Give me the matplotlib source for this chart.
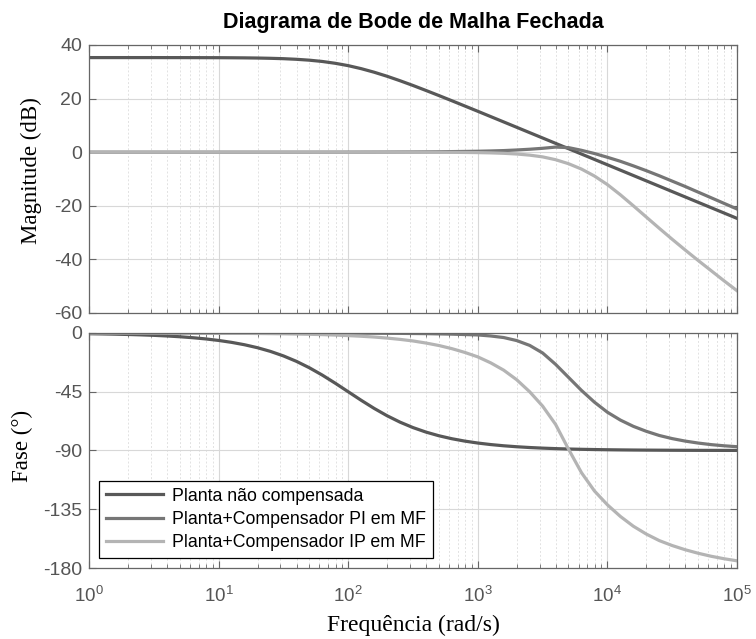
import matplotlib
matplotlib.use("Agg")
import matplotlib.pyplot as plt
from matplotlib.ticker import LogLocator, NullFormatter, FixedLocator

plt.rcParams['font.family'] = ['Liberation Sans', 'DejaVu Sans']
plt.rcParams['mathtext.fontset'] = 'custom'
plt.rcParams['mathtext.rm'] = 'Liberation Sans'
plt.rcParams['mathtext.it'] = 'Liberation Sans'
plt.rcParams['axes.unicode_minus'] = False

# frequencias (rad/s), passos de 0.1 decada
freq = [1, 1.259, 1.585, 1.995, 2.512, 3.162, 3.981, 5.012, 6.310, 7.943,
        10, 12.59, 15.85, 19.95, 25.12, 31.62, 39.81, 50.12, 63.10, 79.43,
        100, 125.9, 158.5, 199.5, 251.2, 316.2, 398.1, 501.2, 631.0, 794.3,
        1000, 1259, 1585, 1995, 2512, 3162, 3981, 5012, 6310, 7943,
        10000, 12590, 15850, 19950, 25120, 31620, 39810, 50120, 63100, 79430,
        100000]

# magnitude (dB)
mag_planta = [35.30, 35.30, 35.30, 35.30, 35.30, 35.30, 35.29, 35.29, 35.28, 35.27,
              35.26, 35.23, 35.19, 35.13, 35.03, 34.89, 34.66, 34.33, 33.85, 33.17,
              32.29, 31.17, 29.84, 28.33, 26.66, 24.89, 23.03, 21.13, 19.19, 17.23,
              15.26, 13.27, 11.28, 9.29, 7.29, 5.30, 3.30, 1.30, -0.70, -2.70,
              -4.70, -6.70, -8.70, -10.70, -12.70, -14.70, -16.70, -18.70, -20.70, -22.70,
              -24.70]
mag_pi = [0, 0, 0, 0, 0, 0, 0, 0, 0, 0,
          0, 0, 0, 0, 0, 0, 0, 0, 0.01, 0.01,
          0.02, 0.03, 0.04, 0.05, 0.07, 0.09, 0.12, 0.16, 0.22, 0.28,
          0.35, 0.46, 0.60, 0.82, 1.10, 1.45, 1.90, 1.70, 0.70, -0.50,
          -1.90, -3.40, -5.10, -6.90, -8.80, -10.80, -12.80, -14.90, -17.00, -19.10,
          -21.20]
mag_ip = [0, 0, 0, 0, 0, 0, 0, 0, 0, 0,
          0, 0, 0, 0, 0, 0, 0, 0, 0, 0,
          0, 0, 0, 0, -0.01, -0.01, -0.02, -0.04, -0.06, -0.10,
          -0.16, -0.26, -0.42, -0.68, -1.10, -1.75, -2.80, -4.30, -6.30, -8.90,
          -12.10, -15.90, -20.00, -24.20, -28.40, -32.50, -36.50, -40.40, -44.20, -48.00,
          -51.70]

# fase (graus)
fase_planta = [-0.57, -0.72, -0.91, -1.14, -1.44, -1.81, -2.28, -2.87, -3.61, -4.54,
               -5.71, -7.18, -9.01, -11.28, -14.10, -17.55, -21.70, -26.62, -32.25, -38.46,
               -45.00, -51.54, -57.75, -63.38, -68.30, -72.45, -75.90, -78.72, -80.99, -82.82,
               -84.29, -85.46, -86.39, -87.13, -87.72, -88.19, -88.56, -88.86, -89.09, -89.28,
               -89.43, -89.55, -89.64, -89.71, -89.77, -89.82, -89.86, -89.89, -89.91, -89.93,
               -89.94]
fase_pi = [0, 0, 0, 0, 0, 0, 0, 0, 0, 0,
           -0.01, -0.01, -0.02, -0.02, -0.03, -0.04, -0.05, -0.06, -0.07, -0.08,
           -0.10, -0.14, -0.20, -0.25, -0.30, -0.40, -0.50, -0.70, -0.90, -1.20,
           -1.50, -2.30, -3.50, -5.80, -9.50, -15.30, -24.00, -34.00, -44.00, -53.00,
           -60.70, -66.70, -71.50, -75.30, -78.50, -80.90, -82.80, -84.30, -85.50, -86.40,
           -87.10]
fase_ip = [-0.02, -0.02, -0.03, -0.04, -0.05, -0.06, -0.08, -0.10, -0.12, -0.16,
           -0.20, -0.25, -0.30, -0.40, -0.50, -0.62, -0.80, -1.00, -1.25, -1.60,
           -2.00, -2.50, -3.10, -3.90, -4.90, -6.10, -7.70, -9.60, -12.00, -14.90,
           -18.30, -22.90, -28.50, -35.80, -45.00, -56.00, -70.00, -89.00, -107.00, -121.00,
           -131.60, -140.50, -148.00, -154.00, -159.00, -162.80, -166.00, -168.70, -171.00, -172.90,
           -174.50]

labels = ['Planta não compensada', 'Planta+Compensador PI em MF',
          'Planta+Compensador IP em MF']
cores = ['#585858', '#767676', '#b4b4b4']

xticks = [1, 10, 100, 1000, 10000, 100000]
xticklabels = ['$10^{0}$', '$10^{1}$', '$10^{2}$', '$10^{3}$', '$10^{4}$', '$10^{5}$']
mag_ticks = [-60, -40, -20, 0, 20, 40]
fase_ticks = [-180, -135, -90, -45, 0]

fig = plt.figure(figsize=(7.56, 6.39), dpi=100)
ax1 = fig.add_axes([0.1177, 0.5102, 0.8572, 0.4194])
ax2 = fig.add_axes([0.1177, 0.1111, 0.8572, 0.3678])

ax1.plot(freq, mag_planta, color=cores[0], lw=2.3)
ax1.plot(freq, mag_pi, color=cores[1], lw=2.3)
ax1.plot(freq, mag_ip, color=cores[2], lw=2.3)

for f, c, lab in zip([fase_planta, fase_pi, fase_ip], cores, labels):
    ax2.plot(freq, f, color=c, lw=2.3, label=lab)

for ax in (ax1, ax2):
    ax.set_xscale('log')
    ax.set_xlim(1, 1e5)
    ax.xaxis.set_major_locator(FixedLocator(xticks))
    ax.xaxis.set_minor_locator(LogLocator(base=10, subs=range(2, 10), numticks=20))
    ax.xaxis.set_minor_formatter(NullFormatter())
    ax.grid(True, which='major', color='#d8d8d8', lw=0.8, ls='-')
    ax.grid(True, which='minor', color='#e2e2e2', lw=0.7, ls=(0, (2, 2)))
    ax.set_axisbelow(True)
    ax.tick_params(which='both', direction='in', top=True, right=True,
                   colors='#666666', labelcolor='#555555', labelsize=14)
    ax.tick_params(axis='y', which='major', pad=5)
    ax.tick_params(which='major', length=5)
    ax.tick_params(which='minor', length=3)
    for sp in ax.spines.values():
        sp.set_color('#666666')
        sp.set_linewidth(0.9)

ax1.set_ylim(-60, 40)
ax1.set_yticks(mag_ticks)
ax1.set_xticklabels([])
ax1.set_ylabel('Magnitude (dB)', family='Liberation Serif', fontsize=16.5)
ax1.yaxis.set_label_coords(-0.0725, 0.53)
ax1.set_title('Diagrama de Bode de Malha Fechada', fontsize=15.5, fontweight='bold', pad=12)

ax2.set_ylim(-180, 0)
ax2.set_yticks(fase_ticks)
ax2.set_xticklabels(xticklabels, fontsize=13.5)
ax2.tick_params(axis='x', which='major', pad=13)
ax2.set_ylabel('Fase (°)', family='Liberation Serif', fontsize=16.5)
ax2.yaxis.set_label_coords(-0.0864, 0.519)
ax2.set_xlabel('Frequência (rad/s)', family='Liberation Serif', fontsize=17, labelpad=6)

leg = ax2.legend(loc='lower left', fontsize=12.8, handlelength=3.2, fancybox=False,
                 framealpha=1, edgecolor='black', borderaxespad=0.55,
                 labelspacing=0.35, handletextpad=0.5)
leg.get_frame().set_linewidth(0.9)

fig.savefig('out.png', dpi=100)
